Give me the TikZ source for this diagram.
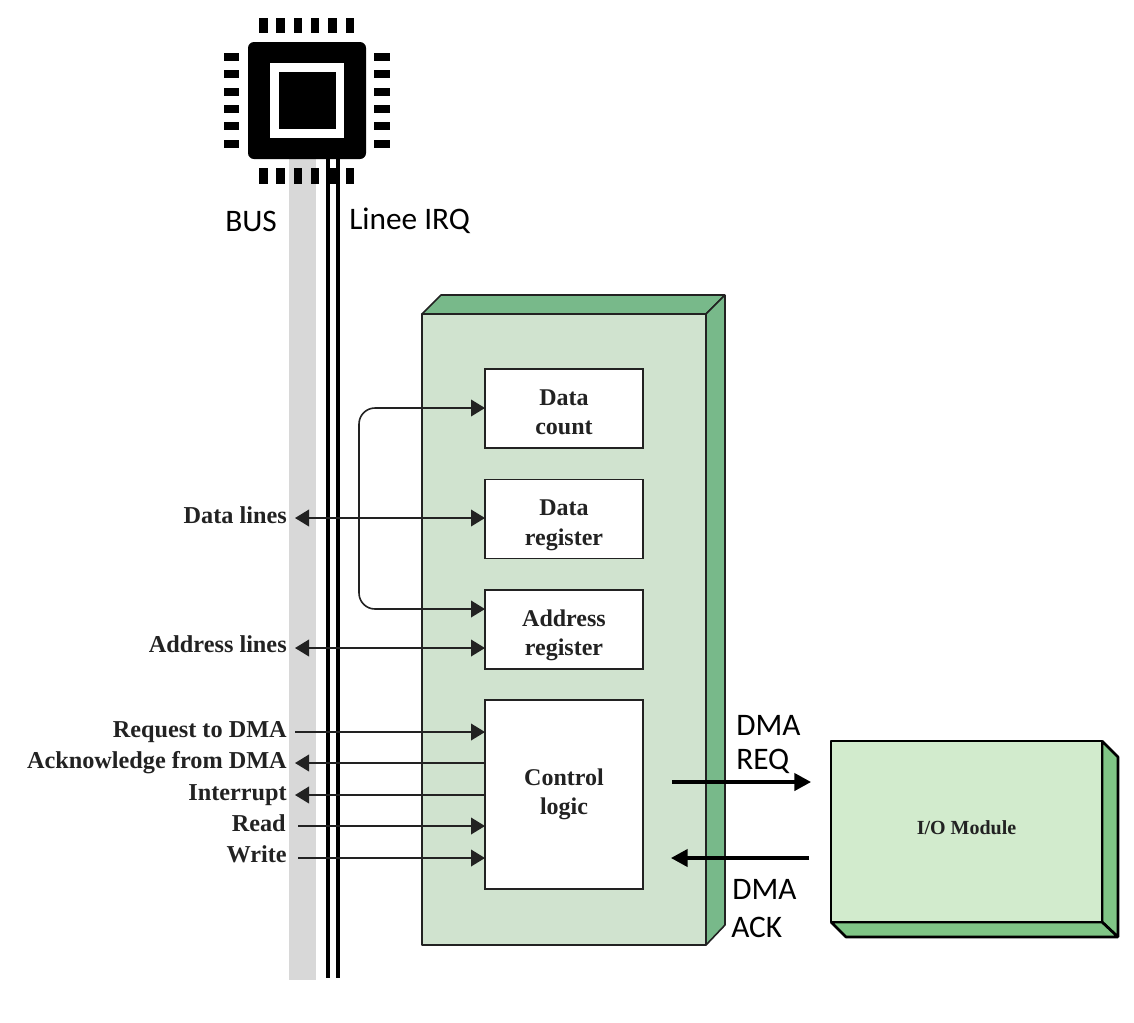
\documentclass[tikz,border=0pt]{standalone}
\usepackage{fontspec}
\setmainfont{Liberation Serif}
\newfontfamily\labelfont{Carlito}
\usetikzlibrary{arrows.meta}
\definecolor{busgray}{HTML}{D8D8D8}
\definecolor{dmafront}{HTML}{D0E3CF}
\definecolor{dmaside}{HTML}{78B98A}
\definecolor{iofront}{HTML}{D2EBCD}
\definecolor{ioside}{HTML}{80C686}
\definecolor{ink}{HTML}{222222}
\newcommand\lowered[2]{\raisebox{#1}[\height][\depth]{#2}}
\tikzset{
  x=0.75pt,y=-0.75pt,
  pin/.style={fill=black,draw=none},
  irq/.style={draw=black,line width=3pt},
  dmaface/.style={draw=ink,line width=1.2pt,line join=bevel},
  iobox/.style={draw=black,line width=2pt,line join=bevel},
  reg/.style={draw=ink,line width=1.2pt,fill=white,align=center,inner sep=0pt,outer sep=0pt,
     font=\fontsize{18}{22}\selectfont\bfseries,text=ink,minimum width=118.5pt},
  sig/.style={anchor=base east,inner sep=0pt,font=\fontsize{18.2}{22}\selectfont\bfseries,text=ink},
  lab/.style={anchor=west,inner sep=0pt,font=\fontsize{23.5}{28}\labelfont,text=black},
  conn/.style={draw=ink,line width=1.2pt},
  tip/.style={-{Triangle[length=10.5pt,width=12.5pt]}},
  both/.style={{Triangle[length=10.5pt,width=12.5pt]}-{Triangle[length=10.5pt,width=12.5pt]}},
  tiprev/.style={{Triangle[length=10.5pt,width=12.5pt]}-},
  fat/.style={draw=black,line width=2.4pt,-{Triangle[length=12.5pt,width=13pt]}},
}
\begin{document}
\begin{tikzpicture}
\useasboundingbox (0,0) rectangle (1134,1022);
% bus and IRQ lines
\fill[busgray] (289,150) rectangle (316,980);
\draw[irq] (328,150) -- (328,978);
\draw[irq] (338,150) -- (338,978);
% chip
\fill[black,rounded corners=4.5pt] (248,42) rectangle (366,159);
\fill[white] (270,63) rectangle (344,138);
\fill[black] (278.5,72) rectangle (335.5,129);
\foreach \i in {0,...,5}{
  \fill[pin] ({259+17.3*\i},18) rectangle ({267.5+17.3*\i},33);
  \fill[pin] ({259+17.3*\i},168) rectangle ({267.5+17.3*\i},184);
  \fill[pin] (224,{53+17.3*\i}) rectangle (239,{61+17.3*\i});
  \fill[pin] (374,{53+17.3*\i}) rectangle (390,{61+17.3*\i});
}
\node[lab] (buslab) at (225,221) {BUS};
\node[lab] (irqlab) at (349,221) {Linee IRQ};
% DMA block
\fill[dmafront] (422,314) rectangle (706,945);
\draw[dmaface,fill=dmaside] (422,314) -- (441,295) -- (725,295) -- (706,314) -- cycle;
\draw[dmaface,fill=dmaside] (706,314) -- (725,295) -- (725,925) -- (706,945) -- cycle;
\draw[dmaface] (422,314) rectangle (706,945);
% registers
\node[reg,minimum height=59pt] (dc) at (564,408.5) {\lowered{-3pt}{Data}\\\lowered{-3pt}{count}};
\node[reg,minimum height=59pt] (dr) at (564,519) {\lowered{-4.6pt}{Data}\\\lowered{-4.6pt}{register}};
\node[reg,minimum height=59pt] (ar) at (564,629.5) {\lowered{-4.2pt}{Address}\\\lowered{-4.2pt}{register}};
\node[reg,minimum height=141.5pt] (cl) at (564,794.5) {\lowered{0pt}{Control}\\\lowered{0pt}{logic}};
% signal labels
\node[sig] (ldata) at (287,523) {Data lines};
\node[sig] (laddr) at (287,652) {Address lines};
\node[sig] (lreq) at (287,737) {Request to DMA};
\node[sig] (lack) at (287,768) {Acknowledge from DMA};
\node[sig] (lint) at (287,800) {Interrupt};
\node[sig] (lrd) at (286,831) {Read};
\node[sig] (lwr) at (287,862) {Write};
% connector free ends
\coordinate (cdata) at (295,518);
\coordinate (caddr) at (295,648);
\coordinate (creq) at (295,732);
\coordinate (cack) at (295,763);
\coordinate (cint) at (295,795);
\coordinate (crd) at (298,826);
\coordinate (cwr) at (298,858);
\coordinate (cdc) at (485,408);
\coordinate (car) at (485,609);
% connectors
\draw[conn,both,rounded corners=12pt] (dc.west |- cdc) -- (359,408) -- (359,609) -- (ar.west |- car);
\draw[conn,both] (cdata) -- (dr.west |- cdata);
\draw[conn,both] (caddr) -- (ar.west |- caddr);
\draw[conn,tip] (creq) -- (cl.west |- creq);
\draw[conn,tiprev] (cack) -- (cl.west |- cack);
\draw[conn,tiprev] (cint) -- (cl.west |- cint);
\draw[conn,tip] (crd) -- (cl.west |- crd);
\draw[conn,tip] (cwr) -- (cl.west |- cwr);
% I/O module
\draw[iobox,fill=ioside] (1102,741) -- (1118,757) -- (1118,937) -- (1102,922) -- cycle;
\draw[iobox,fill=ioside] (831,922) -- (846,937) -- (1118,937) -- (1102,922) -- cycle;
\node[iobox,fill=iofront,minimum width=203.25pt,minimum height=135.75pt,inner sep=0pt,outer sep=0pt,
  text=ink,font=\fontsize{15}{18}\selectfont\bfseries] (io) at (966.5,831.5) {\raisebox{6pt}{I/O Module}};
% DMA handshake
\coordinate (creqs) at (672,782);
\coordinate (cackt) at (671,858);
\draw[fat] (creqs) -- (811,782);
\draw[fat] (809,858) -- (cackt);
\node[lab] (ldma1) at (736,725) {DMA};
\node[lab] (lreqt) at (736,761) {REQ};
\node[lab] (ldma2) at (732,889) {DMA};
\node[lab] (lackt) at (731,927) {ACK};
\end{tikzpicture}
\end{document}
